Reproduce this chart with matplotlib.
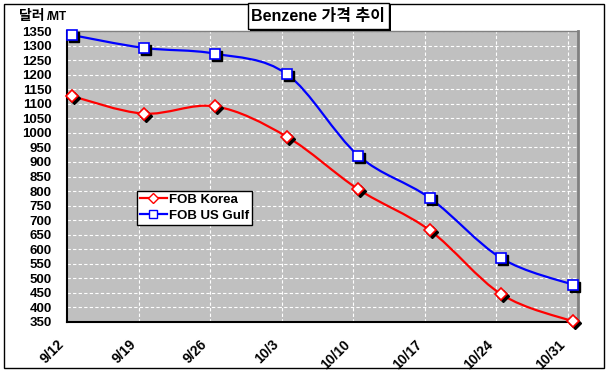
import numpy as np
import matplotlib
matplotlib.use("Agg")
import matplotlib.pyplot as plt
import matplotlib.patches as mpatches
import matplotlib.transforms as mtransforms
from matplotlib.path import Path
from matplotlib.lines import Line2D

plt.rcParams['font.family'] = ['Liberation Sans', 'Noto Sans CJK KR', 'DejaVu Sans']
plt.rcParams['font.weight'] = 'bold'

# ─── data ────────────────────────────────────────────────────────────────────
dates = ["9/12", "9/19", "9/26", "10/3", "10/10", "10/17", "10/24", "10/31"]
fob_korea = [1126, 1066, 1091, 987, 806, 665, 445, 352]
fob_usgulf = [1336, 1292, 1272, 1202, 922, 776, 569, 478]

W, H = 610, 377
fig = plt.figure(figsize=(W / 100, H / 100), dpi=100)
fig.patch.set_facecolor("white")

# plot area in pixels: x 67..578, y 31..322
ax = fig.add_axes([67 / W, 1 - 322 / H, (578 - 67) / W, (322 - 31) / H])
ax.set_facecolor("#C0C0C0")

# date axis: one unit per day, points sit in the middle of their day
x_days = np.arange(len(dates)) * 7 + 0.5
ax.set_xlim(0, 50)
ax.set_ylim(350, 1350)


def smooth_path(xs, ys):
    # Excel-style smoothed line (Catmull-Rom segments as cubic Beziers)
    pts = np.column_stack([xs, ys]).astype(float)
    ext = np.vstack([pts[0], pts, pts[-1]])
    verts = [pts[0]]
    codes = [Path.MOVETO]
    for i in range(1, len(ext) - 2):
        p0, p1, p2, p3 = ext[i - 1], ext[i], ext[i + 1], ext[i + 2]
        c1 = p1 + (p2 - p0) / 6
        c2 = p2 - (p3 - p1) / 6
        verts += [c1, c2, p2]
        codes += [Path.CURVE4] * 3
    return Path(verts, codes)


series = [
    (fob_korea, "#FF0000", "D", 6.3, "FOB Korea"),
    (fob_usgulf, "#0000FF", "s", 7.0, "FOB US Gulf"),
]
shadow = mtransforms.offset_copy(ax.transData, fig=fig, x=2, y=-2, units="dots")
for vals, col, mk, ms, lab in series:
    ax.add_patch(mpatches.PathPatch(smooth_path(x_days, vals), fill=False,
                                    edgecolor=col, lw=1.6, zorder=3))
    ax.plot(x_days, vals, ls="none", marker=mk, ms=ms, mfc="black", mec="black",
            mew=1, transform=shadow, zorder=4, clip_on=False)
    ax.plot(x_days, vals, ls="none", marker=mk, ms=ms, mfc="white", mec=col,
            mew=1.2, zorder=5, clip_on=False)

# grid
ax.set_yticks(np.arange(350, 1351, 50))
ax.set_xticks(np.arange(len(dates)) * 7)
ax.set_xticklabels(dates, rotation=45, ha="right", va="top")
ax.grid(True, color="white", ls=(0, (3, 2)), lw=0.8)
ax.set_axisbelow(True)
ax.tick_params(axis="both", length=0)
ax.tick_params(axis="y", pad=11, labelsize=9.5)
ax.tick_params(axis="x", pad=11, labelsize=10)
for lbl in ax.get_xticklabels() + ax.get_yticklabels():
    lbl.set_fontweight("bold")

ax.spines["left"].set_color("black")
ax.spines["left"].set_linewidth(1.5)
ax.spines["bottom"].set_color("black")
ax.spines["bottom"].set_linewidth(1.5)
ax.spines["top"].set_color("#808080")
ax.spines["top"].set_linewidth(1.0)
ax.spines["right"].set_color("#808080")
ax.spines["right"].set_linewidth(2.0)

# legend
handles = [Line2D([0], [0], color=c, lw=1.6, marker=m, ms=s - 0.8, mfc="white", mec=c, mew=1)
           for _, c, m, s, _ in series]
leg = ax.legend(handles, [s[4] for s in series], loc="upper left",
                bbox_to_anchor=(137 / W, 1 - 191 / H), bbox_transform=fig.transFigure,
                fancybox=False, framealpha=1, edgecolor="black", fontsize=9.5,
                handlelength=2.1, handletextpad=0.15, borderpad=0.2,
                labelspacing=0.3, borderaxespad=0)
leg.get_frame().set_linewidth(1.0)
for t in leg.get_texts():
    t.set_fontweight("bold")

# outer chart border
fig.add_artist(mpatches.Rectangle((4 / W, 1 - 368 / H), 600 / W, 364 / H, fill=False,
                                  edgecolor="black", lw=1.0, transform=fig.transFigure))

# title box with shadow
fig.add_artist(mpatches.Rectangle((250 / W, 1 - 31 / H), 141 / W, 26 / H,
                                  facecolor="black", edgecolor="none",
                                  transform=fig.transFigure, zorder=5))
fig.add_artist(mpatches.Rectangle((248 / W, 1 - 29 / H), 141 / W, 26 / H,
                                  facecolor="white", edgecolor="black", lw=1.0,
                                  transform=fig.transFigure, zorder=6))
fig.text(318.5 / W, 1 - 16.5 / H, "Benzene 가격 추이", ha="center", va="center",
         fontsize=11.5, fontweight="bold", zorder=7)

# unit label
unit = fig.text(19 / W, 1 - 20 / H, "달러", ha="left", va="baseline",
                fontsize=10, fontweight="bold")
fig.text(0, 0, "/MT", fontsize=8.5, fontweight="bold", ha="left", va="baseline",
         transform=mtransforms.offset_copy(fig.transFigure, fig=fig,
                                           x=47, y=H - 20, units="dots"))

fig.savefig("out.png", dpi=100)
